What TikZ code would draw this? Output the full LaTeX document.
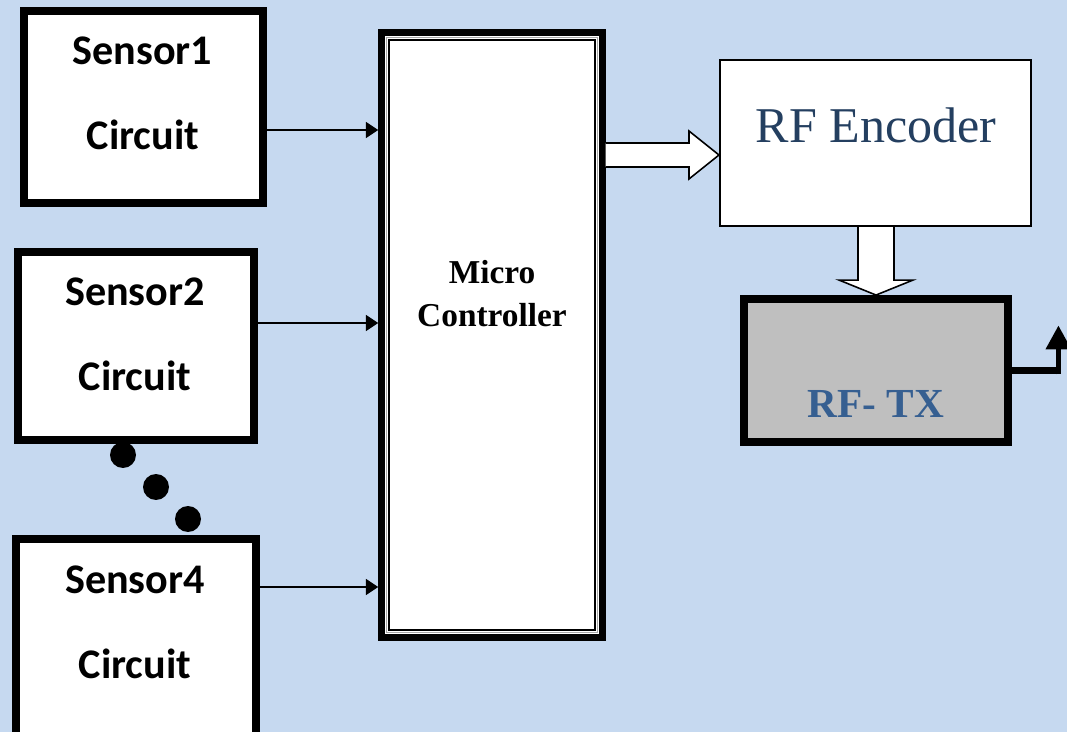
\documentclass[tikz,border=0pt]{standalone}
\usepackage{fontspec}
\setmainfont{Liberation Serif}
\newfontfamily\calfont{Carlito}
\usepackage{tikz}
\usetikzlibrary{arrows.meta, calc}
\definecolor{bgblue}{RGB}{198,217,240}
\definecolor{encblue}{RGB}{36,63,96}
\definecolor{txblue}{RGB}{54,95,145}
\definecolor{txgray}{RGB}{191,191,191}

\begin{document}
\begin{tikzpicture}[
        x=0.02cm, y=-0.02cm,
        sensorbox/.style={rectangle, draw, line width=4.5pt, fill=white, inner sep=0pt},
        sensortext/.style={font=\calfont\bfseries\fontsize{24}{28}\selectfont, anchor=base, inner sep=0pt},
        sig/.style={-{Triangle[length=7pt, width=9pt]}, line width=1.1pt},
        fatarrow/.style={draw, fill=white, line width=0.9pt, line join=miter},
        dot/.style={circle, fill=black, minimum size=0.52cm, inner sep=0pt}
    ]
        \useasboundingbox (0,0) rectangle (1067,732);
        \clip (0,0) rectangle (1067,732);
        \fill[bgblue] (0,0) rectangle (1067,732);

        % Sensor blocks
        \node[sensorbox, minimum width=4.78cm, minimum height=3.84cm] (s1) at (143.5,107) {};
        \node[sensorbox, minimum width=4.72cm, minimum height=3.76cm] (s2) at (136,346) {};
        \node[sensorbox, minimum width=4.80cm, minimum height=4.12cm] (s4) at (136,642) {};
        \node[sensortext] (s1a) at (142.5,65) {Sensor1};
        \node[sensortext] (s1b) at (143,150) {Circuit};
        \node[sensortext] (s2a) at (135,306) {Sensor2};
        \node[sensortext] (s2b) at (135,391) {Circuit};
        \node[sensortext] (s4a) at (135,593) {Sensor4};
        \node[sensortext] (s4b) at (135,678) {Circuit};

        % Dots between sensors
        \foreach \i/\x/\y in {1/123/455, 2/156/487, 3/188/519}
            \node[dot] (dot\i) at (\x,\y) {};

        % Micro controller
        \node[rectangle, draw, line width=3.7pt, fill=white, inner sep=0pt,
              minimum width=4.42cm, minimum height=12.1cm] (mc) at (492,335) {};
        \draw[black!35, line width=0.7pt] ($(mc.north west)+(8,8)$) rectangle ($(mc.south east)+(-8,-8)$);
        \draw[line width=1.1pt] ($(mc.north west)+(10.5,11)$) rectangle ($(mc.south east)+(-10.5,-11)$);
        \node[font=\bfseries\fontsize{19}{24.4}\selectfont, align=center] (mctext) at (492,294) {Micro\\Controller};

        % RF encoder and transmitter
        \node[rectangle, draw, line width=1.2pt, fill=white, inner sep=0pt,
              minimum width=6.22cm, minimum height=3.32cm] (enc) at (875.5,143) {};
        \node[font=\fontsize{28.5}{32}\selectfont, text=encblue, anchor=base, inner sep=0pt] (enctext) at (876,143) {RF Encoder};
        \node[rectangle, draw, line width=4.5pt, fill=txgray, inner sep=0pt,
              minimum width=5.28cm, minimum height=2.86cm] (tx) at (876,370.5) {};
        \node[font=\bfseries\fontsize{23.5}{27}\selectfont, text=txblue, anchor=base, inner sep=0pt] (txtext) at (876,418) {RF- TX};

        % Arrows
        \foreach \s/\dy in {s1/23, s2/-23, s4/-55}
            \draw[sig] ($(\s.east)+(0,\dy)$) -- ($(mc.west |- \s.east)+(0,\dy)$);

        \coordinate (tipA) at ($(enc.west)+(0,12)$);
        \draw[fatarrow] ($(mc.east |- tipA)+(0,-12)$) -- ($(tipA)+(-30,-12)$) -- ($(tipA)+(-30,-24)$) -- (tipA)
            -- ($(tipA)+(-30,24)$) -- ($(tipA)+(-30,12)$) -- ($(mc.east |- tipA)+(0,12)$);
        \draw[fatarrow] ($(tx.north |- enc.south)+(-18,0)$) -- ($(tx.north)+(-18,-15)$) -- ($(tx.north)+(-37,-15)$) -- (tx.north)
            -- ($(tx.north)+(37,-15)$) -- ($(tx.north)+(18,-15)$) -- ($(tx.north |- enc.south)+(18,0)$);

        % Antenna
        \draw[line width=4.5pt] (tx.east) -- ++(49,0) coordinate (antc);
        \draw[line width=2.8pt, -{Triangle[length=13.6pt, width=14pt]}] ($(antc)+(-2.5,4)$) -- ++(0,-49);
    \end{tikzpicture}
\end{document}
